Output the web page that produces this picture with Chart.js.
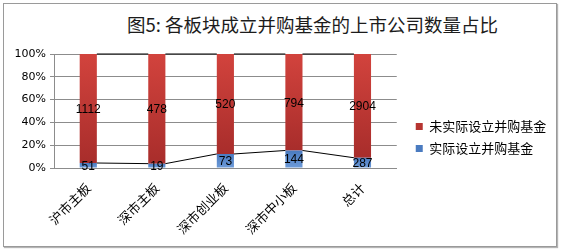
<!DOCTYPE html>
<html>
<head>
<meta charset="utf-8">
<script src="https://cdn.jsdelivr.net/npm/chart.js@4/dist/chart.umd.min.js"></script>
<style>
  html, body { margin: 0; padding: 0; background: #fff; }
  #wrap { position: relative; width: 563px; height: 250px; overflow: hidden; }
  #frame {
    position: absolute; left: 3px; top: 3px; width: 552px; height: 242px;
    border: 1px solid #9a9a9a; box-shadow: 1px 1px 1px #b5b5b5;
  }
  #title {
    position: absolute; left: 127px; top: 14px; line-height: 20px;
    font-family: "Noto Sans CJK SC", sans-serif; font-size: 18.5px; color: #1c1c1c;
    white-space: nowrap;
  }
  canvas { position: absolute; left: 0; top: 0; }
</style>
</head>
<body>
<div id="wrap">
  <div id="frame"></div>
  <div id="title">图5: 各板块成立并购基金的上市公司数量占比</div>
  <canvas id="chart" width="563" height="250"></canvas>
</div>
<script>
// Board names along the x axis
const CATEGORIES = ["沪市主板", "深市主板", "深市创业板", "深市中小板", "总计"];

// Company counts per board
const SET_UP = [51, 19, 73, 144, 287];           // 实际设立并购基金
const NOT_SET_UP = [1112, 478, 520, 794, 2904];  // 未实际设立并购基金

const SERIES_NAMES = ["实际设立并购基金", "未实际设立并购基金"];

// Y axis ticks (percent)
const Y_TICKS = [0, 20, 40, 60, 80, 100];

const GRID_CLR = "#8c8c8c";
const CJK = "'Noto Sans CJK SC', sans-serif";

// share of each board, as percent of its total
const totals = SET_UP.map((v, i) => v + NOT_SET_UP[i]);
const setUpPct = SET_UP.map((v, i) => (v / totals[i]) * 100);
const notSetUpPct = NOT_SET_UP.map((v, i) => (v / totals[i]) * 100);

// vertical gradient per bar segment, like the Excel fill
function segmentFill(topClr, bottomClr) {
  return (ctx) => {
    const chart = ctx.chart;
    if (!chart.chartArea || ctx.type !== "data") return topClr;
    const y = chart.scales.y;
    const ds = ctx.datasetIndex;
    const i = ctx.dataIndex;
    const start = ds === 0 ? 0 : setUpPct[i];
    const end = ds === 0 ? setUpPct[i] : 100;
    const g = chart.ctx.createLinearGradient(0, y.getPixelForValue(end), 0, y.getPixelForValue(start));
    g.addColorStop(0, topClr);
    g.addColorStop(1, bottomClr);
    return g;
  };
}

// count labels centred in each segment
const valueLabels = {
  id: "valueLabels",
  afterDatasetsDraw(chart) {
    const ctx = chart.ctx;
    const raw = [SET_UP, NOT_SET_UP];
    ctx.save();
    ctx.font = "12px 'Liberation Sans', sans-serif";
    ctx.fillStyle = "#000";
    ctx.textAlign = "center";
    ctx.textBaseline = "middle";
    chart.data.datasets.forEach((_, d) => {
      chart.getDatasetMeta(d).data.forEach((bar, i) => {
        const { x, y, base } = bar.getProps(["x", "y", "base"], true);
        ctx.fillText(String(raw[d][i]), x, (y + base) / 2 + 1);
      });
    });
    ctx.restore();
  },
};

// Excel-style series lines joining segment tops between bars
const seriesLines = {
  id: "seriesLines",
  afterDatasetsDraw(chart) {
    const ctx = chart.ctx;
    ctx.save();
    ctx.strokeStyle = "#000";
    ctx.lineWidth = 1;
    chart.data.datasets.forEach((_, d) => {
      const bars = chart.getDatasetMeta(d).data;
      for (let i = 0; i < bars.length - 1; i++) {
        const a = bars[i].getProps(["x", "y", "width"], true);
        const b = bars[i + 1].getProps(["x", "y", "width"], true);
        ctx.beginPath();
        ctx.moveTo(a.x + a.width / 2, a.y);
        ctx.lineTo(b.x - b.width / 2, b.y);
        ctx.stroke();
      }
    });
    ctx.restore();
  },
};

// move the legend block beside the plot, level with its lower half
// (right edge widened too, since the legend clips to its own box)
const legendShift = {
  id: "legendShift",
  afterLayout(chart) {
    const lg = chart.legend;
    if (!lg) return;
    lg.left += 10;
    lg.right += 40;
    lg.width = lg.right - lg.left;
    const h = lg.bottom - lg.top;
    lg.bottom = chart.chartArea.bottom - 4;
    lg.top = lg.bottom - h;
  },
};

new Chart(document.getElementById("chart"), {
  type: "bar",
  data: {
    labels: CATEGORIES,
    datasets: [
      {
        label: SERIES_NAMES[0],
        data: setUpPct,
        backgroundColor: segmentFill("#4a7bc0", "#6d9bd9"),
        barPercentage: 0.25,
        categoryPercentage: 1,
      },
      {
        label: SERIES_NAMES[1],
        data: notSetUpPct,
        backgroundColor: segmentFill("#d2433d", "#a82d2b"),
        barPercentage: 0.25,
        categoryPercentage: 1,
      },
    ],
  },
  options: {
    responsive: false,
    animation: false,
    layout: { padding: { top: 54, left: 0, right: 34, bottom: 0 } },
    plugins: {
      title: { display: false },
      tooltip: { enabled: false },
      legend: {
        position: "right",
        align: "end",
        reverse: true,
        labels: {
          boxWidth: 7,
          boxHeight: 7,
          padding: 9,
          color: "#000",
          font: { family: CJK, size: 13 },
        },
      },
    },
    scales: {
      x: {
        stacked: true,
        grid: { display: false },
        border: { display: true, color: GRID_CLR },
        ticks: {
          color: "#000",
          font: { family: CJK, size: 13 },
          minRotation: 45,
          maxRotation: 45,
          padding: 4,
        },
        afterFit: (s) => {
          s.height = 82;
          s.paddingLeft = 0;
          s.paddingRight = 0;
        },
      },
      y: {
        stacked: true,
        min: 0,
        max: 100,
        afterBuildTicks: (s) => { s.ticks = Y_TICKS.map((v) => ({ value: v })); },
        grid: { color: GRID_CLR, tickLength: 4 },
        border: { display: true, color: GRID_CLR },
        ticks: {
          color: "#000",
          padding: 4,
          font: { family: "'DejaVu Sans', sans-serif", size: 11 },
          callback: (v) => v + "%",
        },
        afterFit: (s) => { s.width = 54; },
      },
    },
  },
  plugins: [valueLabels, seriesLines, legendShift],
});
</script>
</body>
</html>
